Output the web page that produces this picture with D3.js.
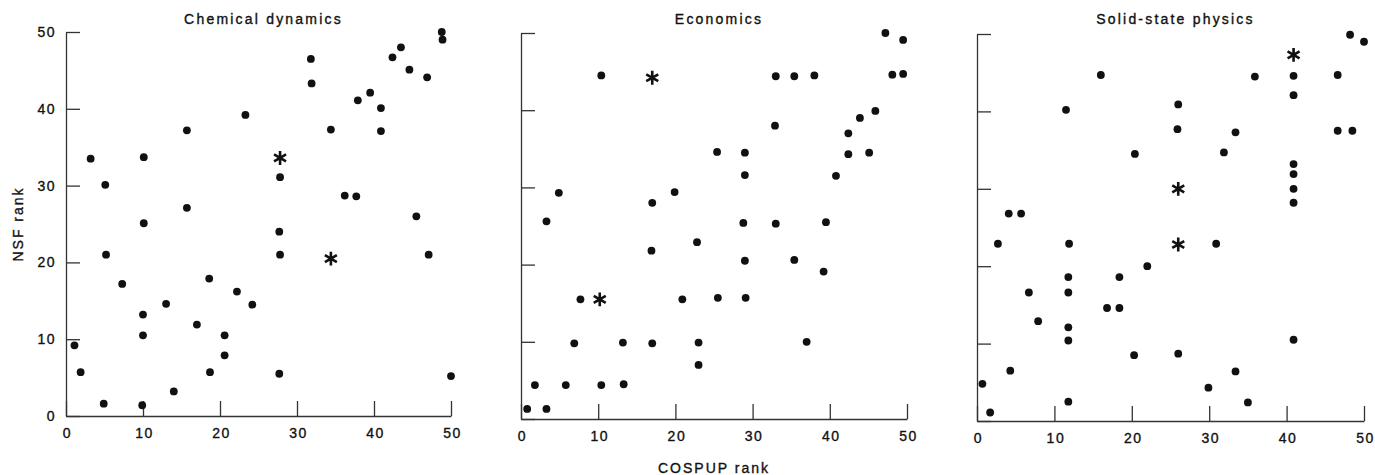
<!DOCTYPE html>
<html>
<head>
<meta charset="utf-8">
<script src="https://cdn.jsdelivr.net/npm/d3@7"></script>
<style>
    body { margin: 0; background: #fff; }
    svg text { font-family: "Liberation Sans", Arial, sans-serif; fill: #111; stroke: #111; stroke-width: 0.35px; }
    .title { font-size: 14px; letter-spacing: 2.2px; }
    .axis text { font-size: 14px; letter-spacing: 1.5px; }
    .axis path, .axis line { stroke: #333; stroke-width: 1.3; }
    .label { font-size: 14px; letter-spacing: 2px; }
    .dot { fill: #111; }
    .star { fill: none; stroke: #111; stroke-width: 2.6; }
</style>
</head>
<body>
<svg id="chart"></svg>
<script>
// [COSPUP rank, NSF rank]
const chemDots = [
    [3.2, 33.5], [5.1, 30.1], [10.1, 33.7], [15.7, 37.2], [15.7, 27.1], [23.3, 39.2],
    [27.8, 31.1], [31.8, 46.5], [31.9, 43.3], [34.4, 37.3], [37.9, 41.1], [39.5, 42.1],
    [40.9, 40.1], [40.9, 37.1], [36.2, 28.7], [37.7, 28.6], [42.4, 46.7], [43.5, 48.0],
    [44.6, 45.1], [46.9, 44.1], [48.8, 50.0], [48.9, 49.0], [45.5, 26.0],
    [10.1, 25.1], [5.2, 21.0], [27.7, 24.0], [27.8, 21.0], [47.1, 21.0], [7.3, 17.2],
    [18.6, 17.9], [22.2, 16.2], [13.0, 14.6], [24.2, 14.5], [10.0, 13.2], [17.0, 11.9],
    [10.0, 10.5], [20.6, 10.5], [20.6, 7.9], [1.1, 9.2], [1.9, 5.7], [18.7, 5.7],
    [27.7, 5.5], [50.0, 5.2], [14.0, 3.2], [4.9, 1.6], [9.9, 1.4]
];
const chemStars = [[27.8, 33.6], [34.4, 20.5]];

const econDots = [
    [47.2, 50.0], [49.5, 49.1], [10.4, 44.5], [33.0, 44.4], [35.4, 44.4], [38.0, 44.5],
    [48.1, 44.6], [49.5, 44.7], [45.9, 39.9], [43.9, 39.0], [32.9, 38.0], [42.4, 37.0],
    [42.4, 34.3], [45.1, 34.5], [25.4, 34.6], [29.0, 34.5], [29.0, 31.6], [40.8, 31.5],
    [4.9, 29.3], [19.9, 29.4], [17.0, 28.0],
    [3.3, 25.6], [28.8, 25.4], [33.0, 25.3], [39.5, 25.5], [22.8, 22.9], [16.9, 21.8],
    [29.0, 20.5], [35.4, 20.6], [39.2, 19.1], [7.7, 15.5], [20.9, 15.5], [25.5, 15.7],
    [29.1, 15.7], [6.9, 9.8], [13.2, 9.9], [17.0, 9.8], [23.0, 9.9], [37.0, 10.0],
    [23.0, 7.0], [1.8, 4.4], [5.8, 4.4], [10.4, 4.4], [13.3, 4.5], [0.8, 1.3], [3.3, 1.3]
];
const econStars = [[17.0, 44.2], [10.2, 15.5]];

const solidDots = [
    [48.2, 49.9], [50.0, 49.0], [40.9, 44.6], [35.9, 44.5], [46.6, 44.7], [16.0, 44.7],
    [40.9, 42.1], [26.0, 40.9], [11.5, 40.2], [25.9, 37.7], [33.4, 37.3], [46.6, 37.5],
    [48.5, 37.5], [20.4, 34.5], [31.9, 34.7], [40.9, 33.2], [40.9, 31.9], [40.9, 30.0],
    [40.9, 28.2], [4.1, 26.8], [5.7, 26.8],
    [2.7, 22.9], [11.9, 22.9], [30.9, 22.9], [22.0, 20.0], [11.8, 18.6], [18.4, 18.6],
    [6.7, 16.6], [11.8, 16.6], [16.8, 14.6], [18.4, 14.6], [7.9, 12.9], [11.8, 12.1],
    [11.8, 10.4], [40.9, 10.5], [20.3, 8.5], [26.0, 8.7], [4.3, 6.5], [33.4, 6.4],
    [0.7, 4.8], [29.9, 4.3], [11.8, 2.5], [35.0, 2.4], [1.7, 1.1]
];
const solidStars = [[40.9, 47.3], [26.0, 30.0], [26.0, 22.8]];

const titles = ['Chemical dynamics', 'Economics', 'Solid-state physics'];
const tickValues = [0, 10, 20, 30, 40, 50];

const width = 1375, height = 475;
const svg = d3.select('#chart').attr('width', width).attr('height', height);

// each scanned panel sits a bit differently
const panels = [
    {left: 66, right: 451, top: 32, bottom: 416, dots: chemDots, stars: chemStars},
    {left: 521, right: 907, top: 33, bottom: 419, dots: econDots, stars: econStars},
    {left: 977, right: 1364, top: 34, bottom: 421, dots: solidDots, stars: solidStars},
];

const star = d3.symbol().type(d3.symbolAsterisk).size(135);

panels.forEach((p, i) => {
    const x = d3.scaleLinear().domain([0, 50]).range([p.left, p.right]);
    const y = d3.scaleLinear().domain([0, 50]).range([p.bottom, p.top]);
    const g = svg.append('g');

    const xAxis = d3.axisBottom(x)
        .tickValues(tickValues)
        .tickSizeInner(-15)
        .tickSizeOuter(0)
        .tickPadding(12);
    g.append('g')
        .attr('class', 'axis')
        .attr('transform', 'translate(0,' + p.bottom + ')')
        .call(xAxis)
        .call(a => a.selectAll('text').attr('dx', '1px'));

    const yAxis = d3.axisLeft(y)
        .tickValues(tickValues)
        .tickSizeInner(-14)
        .tickSizeOuter(0)
        .tickPadding(10);
    if (i > 0) yAxis.tickFormat(() => '');
    g.append('g')
        .attr('class', 'axis')
        .attr('transform', 'translate(' + p.left + ',0)')
        .call(yAxis);

    g.append('text')
        .attr('class', 'title')
        .attr('x', (p.left + p.right) / 2 + 5)
        .attr('y', 24)
        .attr('text-anchor', 'middle')
        .text(titles[i]);

    g.selectAll('circle')
        .data(p.dots)
      .enter().append('circle')
        .attr('class', 'dot')
        .attr('cx', d => x(d[0]))
        .attr('cy', d => y(d[1]))
        .attr('r', 3.9);

    g.selectAll('path.star')
        .data(p.stars)
      .enter().append('path')
        .attr('class', 'star')
        .attr('d', star)
        .attr('transform', d => 'translate(' + x(d[0]) + ',' + y(d[1]) + ')');
});

svg.append('text')
    .attr('class', 'label')
    .attr('transform', 'translate(23,224) rotate(-90)')
    .attr('text-anchor', 'middle')
    .text('NSF rank');

svg.append('text')
    .attr('class', 'label')
    .attr('x', 714)
    .attr('y', 473)
    .attr('text-anchor', 'middle')
    .text('COSPUP rank');
</script>
</body>
</html>
